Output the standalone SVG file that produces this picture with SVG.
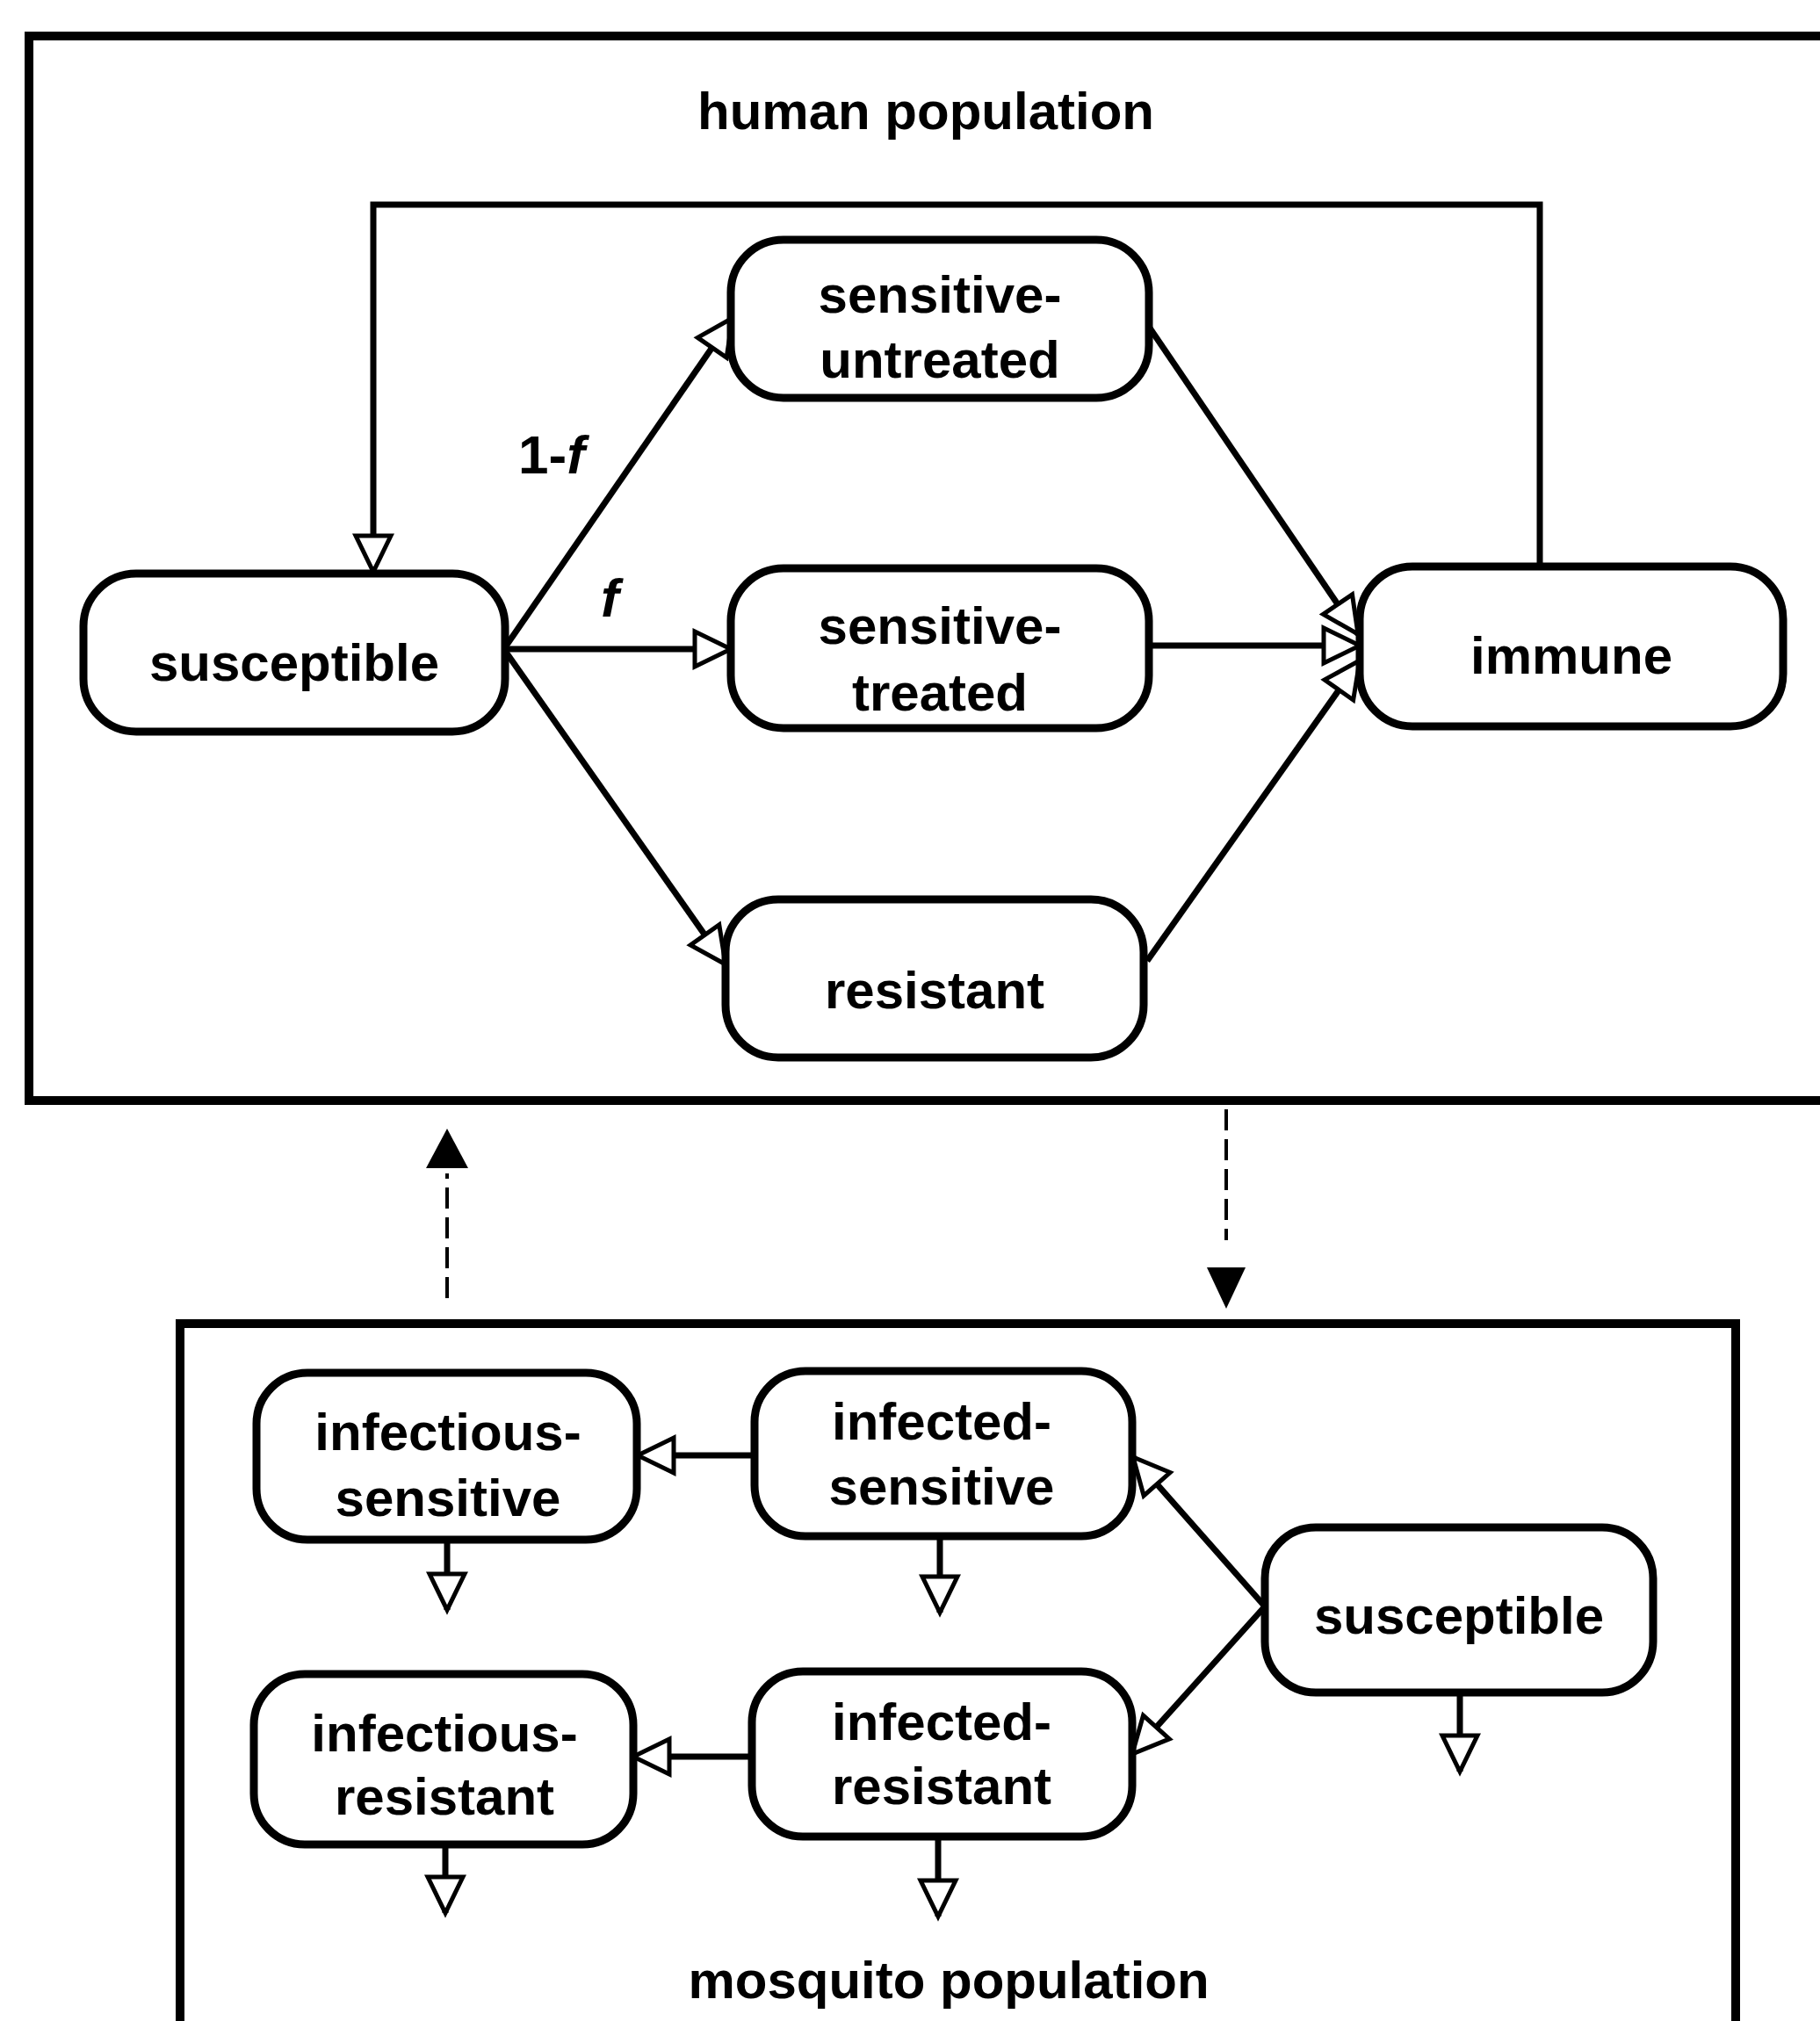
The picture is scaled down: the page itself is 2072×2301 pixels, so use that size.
<svg xmlns="http://www.w3.org/2000/svg" width="2072" height="2301" viewBox="0 0 2072 2301">
<style>
.frame{fill:none;stroke:#000;stroke-width:10}
.node rect{fill:#fff;stroke:#000;stroke-width:9}
.lbl{font-family:"Liberation Sans",Arial,sans-serif;font-weight:bold;font-size:60px;fill:#000;text-anchor:middle}
.title{font-family:"Liberation Sans",Arial,sans-serif;font-weight:bold;font-size:60px;fill:#000;text-anchor:middle}
.edge{fill:none;stroke:#000;stroke-width:7;marker-end:url(#open)}
.thin{fill:none;stroke:#000;stroke-width:5}
.dash{fill:none;stroke:#000;stroke-width:4;stroke-dasharray:24 10}
.frac{font-family:"Liberation Sans",Arial,sans-serif;font-weight:bold;font-size:62px;fill:#000}
</style>
<defs>
<marker id="open" viewBox="0 0 50 50" refX="46" refY="25" markerWidth="50" markerHeight="50" markerUnits="userSpaceOnUse" orient="auto" overflow="visible">
<path d="M5,5 L46,25 L5,45 Z" fill="#fff" stroke="#000" stroke-width="5"/>
</marker>
</defs>
<rect width="2072" height="2301" fill="#fff"/>

<g id="human-population">
<rect class="frame" x="33" y="41" width="2060" height="1212"/>
<text class="title" x="1054" y="147">human population</text>
</g>
<g id="mosquito-population">
<rect class="frame" x="205" y="1507" width="1771" height="820"/>
<text class="title" x="1080" y="2275">mosquito population</text>
</g>

<g id="connectors">
<path class="edge" d="M1753,645 V233 H425 V651"/>
<path class="edge" d="M575,737 L834,362"/>
<path class="edge" d="M575,739 L832,739"/>
<path class="edge" d="M575,741 L826,1098"/>
<path class="edge" d="M1308,372 L1546,722"/>
<path class="edge" d="M1308,735 L1548,735"/>
<path class="edge" d="M1306,1094 L1548,752"/>
<text class="frac" x="590" y="539">1-<tspan font-style="italic">f</tspan></text>
<text class="frac" x="684" y="702" font-style="italic">f</text>

<path class="dash" d="M509,1478 V1336"/>
<polygon points="509,1285 485,1330 533,1330" fill="#000"/>
<path class="dash" d="M1396,1263 V1412"/>
<polygon points="1374,1443 1418,1443 1396,1490" fill="#000"/>

<path class="edge" d="M859,1657 L726,1657"/>
<path class="edge" d="M856,2000 L721,2000"/>
<path class="edge" d="M1440,1829 L1290,1659"/>
<path class="edge" d="M1440,1829 L1289,1997"/>
<path class="edge" d="M509,1753 V1833"/>
<path class="edge" d="M1070,1749 V1836"/>
<path class="edge" d="M1662,1927 V2017"/>
<path class="edge" d="M507,2100 V2178"/>
<path class="edge" d="M1068,2091 V2182"/>
</g>

<g id="h-susceptible" class="node"><rect x="95" y="653" width="480" height="180" rx="60"/><text class="lbl" x="335" y="775">susceptible</text></g>
<g id="h-sensitive-untreated" class="node"><rect x="832" y="273" width="476" height="180" rx="60"/><text class="lbl" x="1070" y="356">sensitive-</text><text class="lbl" x="1070" y="430">untreated</text></g>
<g id="h-sensitive-treated" class="node"><rect x="832" y="647" width="476" height="182" rx="60"/><text class="lbl" x="1070" y="733">sensitive-</text><text class="lbl" x="1070" y="809">treated</text></g>
<g id="h-resistant" class="node"><rect x="826" y="1024" width="476" height="180" rx="60"/><text class="lbl" x="1064" y="1148">resistant</text></g>
<g id="h-immune" class="node"><rect x="1548" y="645" width="482" height="182" rx="60"/><text class="lbl" x="1789" y="767">immune</text></g>

<g id="m-infectious-sensitive" class="node"><rect x="292" y="1563" width="433" height="190" rx="58"/><text class="lbl" x="510" y="1651">infectious-</text><text class="lbl" x="510" y="1726">sensitive</text></g>
<g id="m-infected-sensitive" class="node"><rect x="859" y="1561" width="430" height="188" rx="58"/><text class="lbl" x="1072" y="1639">infected-</text><text class="lbl" x="1072" y="1713">sensitive</text></g>
<g id="m-susceptible" class="node"><rect x="1440" y="1739" width="442" height="188" rx="58"/><text class="lbl" x="1661" y="1860">susceptible</text></g>
<g id="m-infectious-resistant" class="node"><rect x="289" y="1906" width="432" height="194" rx="58"/><text class="lbl" x="506" y="1994">infectious-</text><text class="lbl" x="506" y="2066">resistant</text></g>
<g id="m-infected-resistant" class="node"><rect x="856" y="1903" width="433" height="188" rx="58"/><text class="lbl" x="1072" y="1981">infected-</text><text class="lbl" x="1072" y="2054">resistant</text></g>
</svg>
